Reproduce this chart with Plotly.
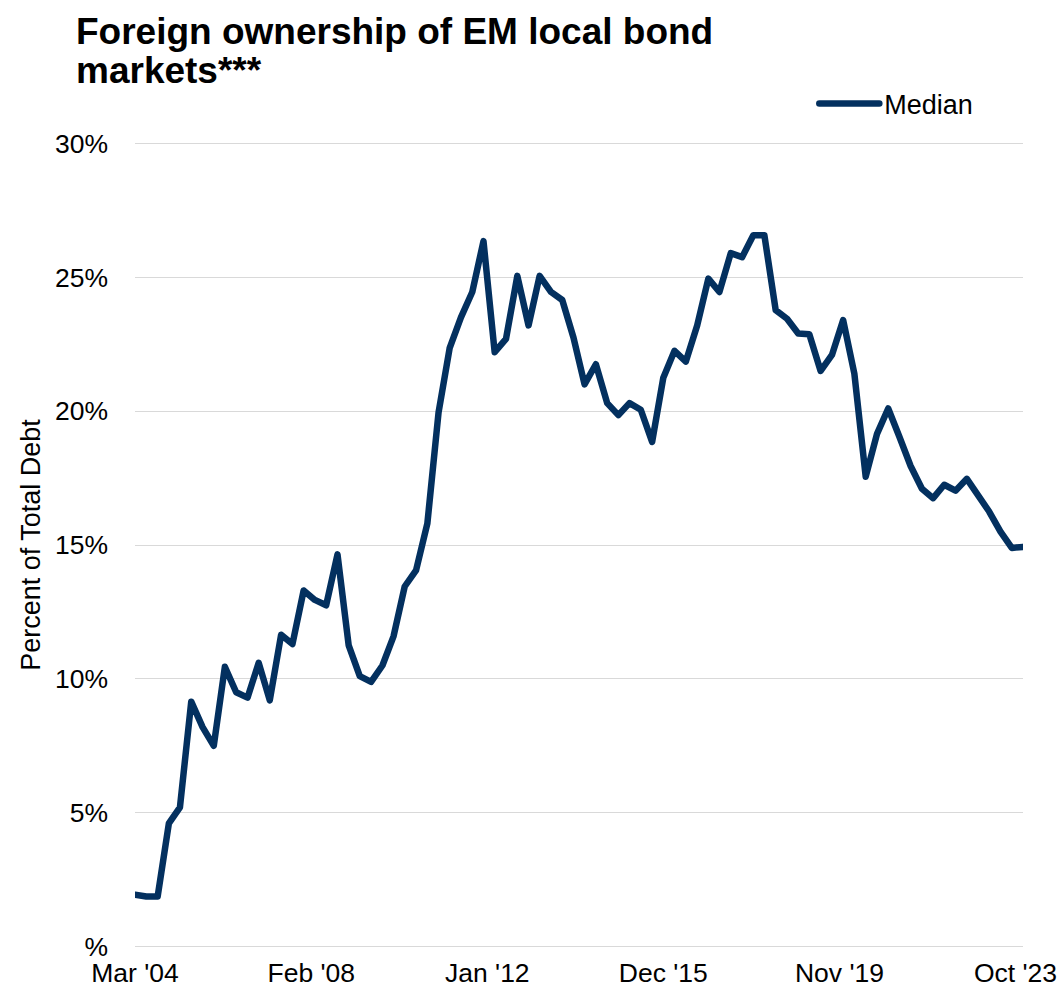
import pandas as pd
import plotly.graph_objects as go

# Quarterly observations, Mar 2004 .. Dec 2023
quarters = pd.date_range("2004-03-01", periods=80, freq="3MS")
median_pct = [
    1.94, 1.87, 1.87, 4.6, 5.2, 9.15, 8.2, 7.5, 10.45, 9.5,
    9.3, 10.6, 9.2, 11.65, 11.3, 13.3, 12.95, 12.75, 14.65, 11.25,
    10.1, 9.89, 10.5, 11.6, 13.45, 14.05, 15.8, 19.95, 22.35, 23.5,
    24.45, 26.35, 22.2, 22.7, 25.05, 23.2, 25.05, 24.45, 24.15, 22.75,
    21.0, 21.75, 20.3, 19.85, 20.3, 20.05, 18.85, 21.25, 22.25, 21.85,
    23.2, 24.95, 24.45, 25.9, 25.75, 26.57, 26.57, 23.77, 23.45, 22.9,
    22.87, 21.5, 22.1, 23.4, 21.4, 17.55, 19.15, 20.1, 19.05, 17.95,
    17.1, 16.75, 17.25, 17.03, 17.47, 16.9, 16.25, 15.5, 14.89, 14.93,
]
x_tick_dates = ["2004-03-01", "2008-02-01", "2012-01-01", "2015-12-01", "2019-11-01", "2023-10-01"]
x_tick_labels = ["Mar '04", "Feb '08", "Jan '12", "Dec '15", "Nov '19", "Oct '23"]
y_tick_vals = [0, 5, 10, 15, 20, 25, 30]
y_tick_labels = ["%", "5%", "10%", "15%", "20%", "25%", "30%"]

NAVY = "#03305F"
FONT = "Liberation Sans, Arial, sans-serif"

fig = go.Figure()
fig.add_trace(go.Scatter(
    x=quarters, y=median_pct, mode="lines", name="Median",
    line=dict(color=NAVY, width=6.5),
))

fig.update_layout(
    width=1060, height=993,
    margin=dict(l=135, r=37, t=138, b=41),
    paper_bgcolor="white", plot_bgcolor="white",
    font=dict(family=FONT, size=27, color="black"),
    showlegend=True,
    legend=dict(x=0.765, y=1.0418, xanchor="left", yanchor="middle",
                bgcolor="rgba(0,0,0,0)", font=dict(size=27), itemwidth=60),
    xaxis=dict(
        range=["2004-03-01", "2023-12-01"],
        tickvals=x_tick_dates, ticktext=x_tick_labels,
        showgrid=False, showline=False, zeroline=False, ticks="",
        ticklabelstandoff=2,
        tickfont=dict(size=26.5), automargin=False,
    ),
    yaxis=dict(
        range=[-0.2, 30.2], tickvals=y_tick_vals, ticktext=y_tick_labels,
        showgrid=True, gridcolor="#D9D9D9", gridwidth=1,
        zeroline=False, showline=False, ticks="",
        ticklabelstandoff=26,
        tickfont=dict(size=26.5), automargin=False,
        title=dict(text="Percent of Total Debt", standoff=6, font=dict(size=27)),
    ),
)

fig.add_annotation(
    text="<b>Foreign ownership of EM local bond</b>", xref="paper", yref="paper",
    x=-0.0687, y=1.1314, xanchor="left", yanchor="middle", showarrow=False,
    font=dict(size=37, family=FONT, color="black"),
)
fig.add_annotation(
    text="<b>markets***</b>", xref="paper", yref="paper",
    x=-0.0687, y=1.0835, xanchor="left", yanchor="middle", showarrow=False,
    font=dict(size=37, family=FONT, color="black"),
)

css = ("var s=document.createElement('style');"
       "s.innerHTML='body{margin:0 !important;} .js-line{stroke-linejoin:round !important;stroke-linecap:round !important;}';"
       "document.head.appendChild(s);")
fig.write_html("out.html", post_script=css, config={"displayModeBar": False})
